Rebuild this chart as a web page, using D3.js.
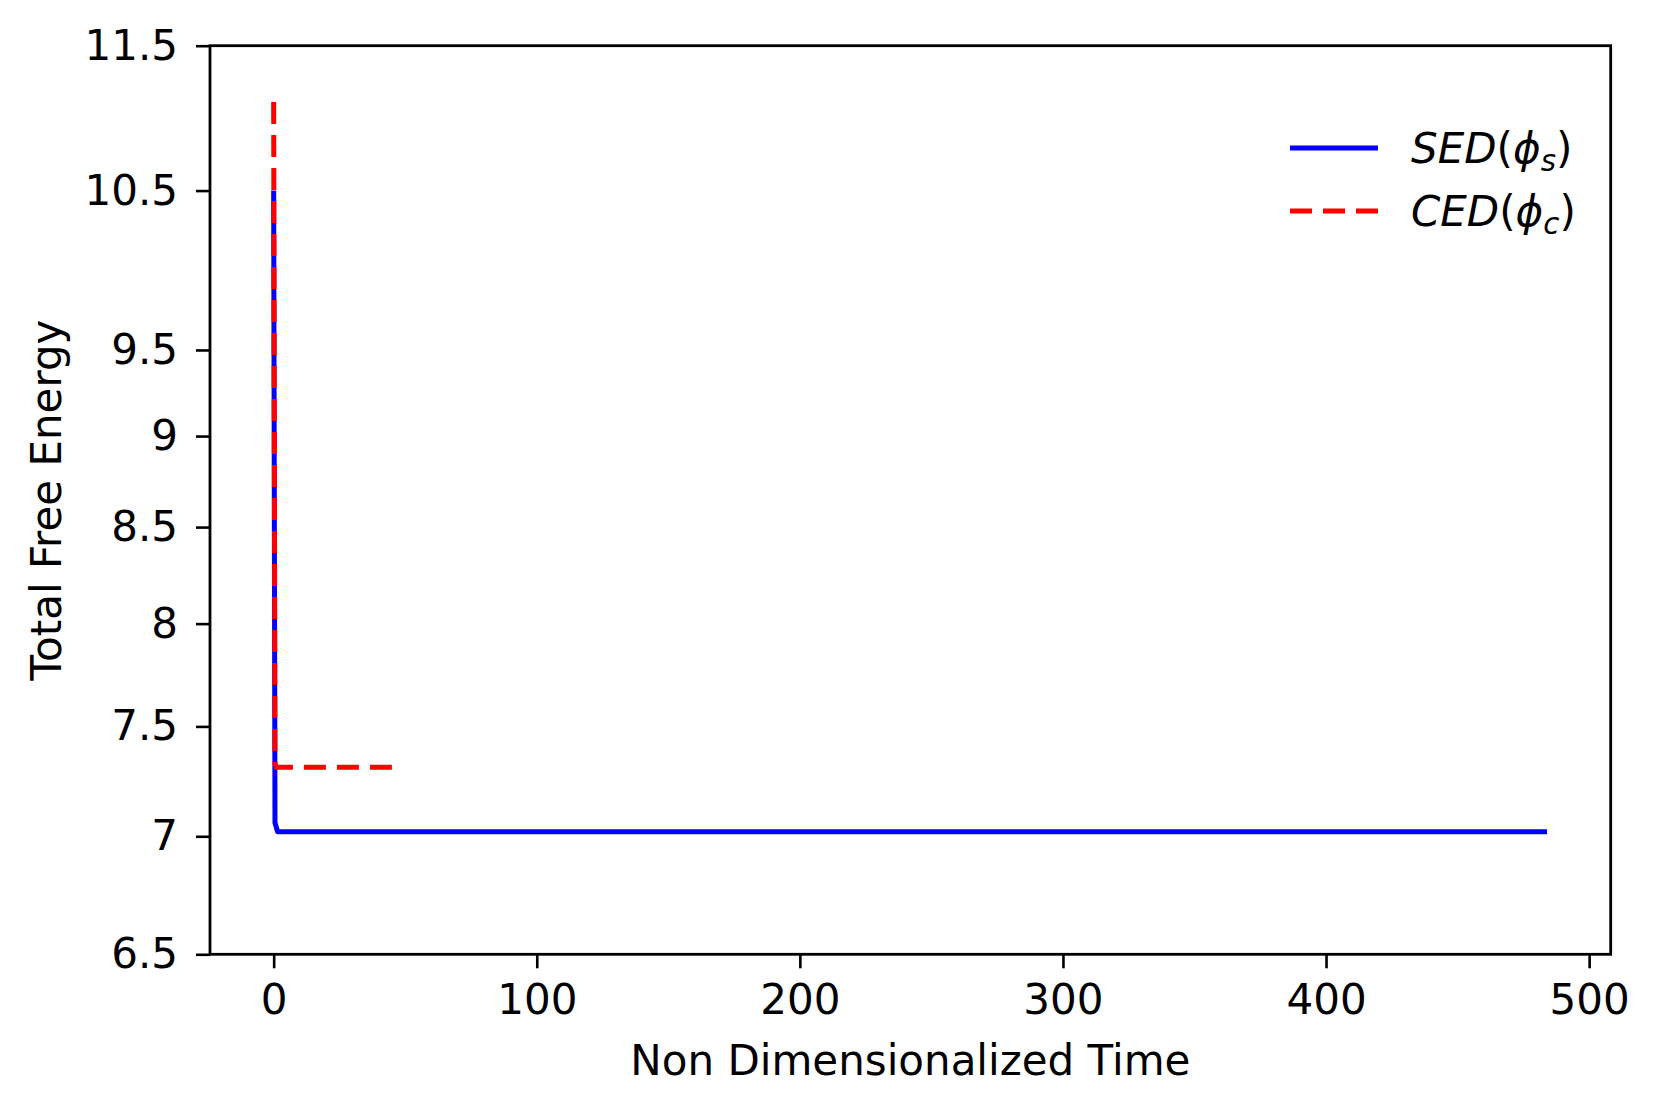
<!DOCTYPE html>
<html>
<head>
<meta charset="utf-8">
<script src="https://cdn.jsdelivr.net/npm/d3@7"></script>
<style>
  body { margin: 0; background: #fff; }
  svg { display: block; font-family: "DejaVu Sans", sans-serif; }
</style>
</head>
<body>
<svg id="chart" width="1661" height="1113"></svg>
<script>
// data
const timeSED = [0, 0.5, 1.5, 50, 100, 200, 300, 400, 484];
const energySED = [10.5, 7.06, 7.02, 7.02, 7.02, 7.02, 7.02, 7.02, 7.02];
const timeCED = [0, 0.5, 1, 20, 47];
const energyCED = [11.1, 7.33, 7.31, 7.31, 7.31];
const xTicks = [0, 100, 200, 300, 400, 500];
const yTicks = [6.5, 7, 7.5, 8, 8.5, 9, 9.5, 10.5, 11.5];
const xLabel = "Non Dimensionalized Time";
const yLabel = "Total Free Energy";

const margin = { top: 45.7, right: 50.3, bottom: 158.7, left: 210 };
const W = 1661, H = 1113;
const width = W - margin.left - margin.right;
const height = H - margin.top - margin.bottom;

const svg = d3.select("#chart");
const g = svg.append("g").attr("transform", `translate(${margin.left},${margin.top})`);

// x: matplotlib 5% margins around 0..484
const xMax = d3.max(timeSED);
const pad = xMax * 0.05;
const x = d3.scaleLinear().domain([-pad, xMax + pad]).range([0, width]);
const y = d3.scaleLog().domain([6.5, 11.5]).range([height, 0]);

const fontSize = 42;

// eksenler
const xAxis = g.append("g")
  .attr("transform", `translate(0,${height})`)
  .call(d3.axisBottom(x).tickValues(xTicks).tickSize(14).tickPadding(16).tickFormat(d3.format("d")));
const yAxis = g.append("g")
  .call(d3.axisLeft(y).tickValues(yTicks).tickSize(14).tickPadding(18).tickFormat(d => String(d)));

[xAxis, yAxis].forEach(a => {
  a.select(".domain").remove();
  a.selectAll(".tick line").attr("stroke", "#000").attr("stroke-width", 2.6);
  a.selectAll(".tick text").attr("fill", "#000").attr("font-size", fontSize)
    .attr("font-family", "DejaVu Sans, sans-serif");
});

// seriler
const line = d3.line().x(d => x(d[0])).y(d => y(d[1]));

g.append("path")
  .datum(d3.zip(timeSED, energySED))
  .attr("fill", "none")
  .attr("stroke", "#0000ff")
  .attr("stroke-width", 5)
  .attr("stroke-linejoin", "round")
  .attr("d", line);

g.append("path")
  .datum(d3.zip(timeCED, energyCED))
  .attr("fill", "none")
  .attr("stroke", "#ff0000")
  .attr("stroke-width", 5)
  .attr("stroke-dasharray", "22,11")
  .attr("d", line);

// frame
g.append("rect")
  .attr("width", width).attr("height", height)
  .attr("fill", "none").attr("stroke", "#000").attr("stroke-width", 2.8);

// axis labels
g.append("text")
  .attr("x", width / 2).attr("y", height + 121)
  .attr("text-anchor", "middle")
  .attr("font-size", fontSize)
  .text(xLabel);

g.append("text")
  .attr("transform", `translate(${-149},${height / 2}) rotate(-90)`)
  .attr("text-anchor", "middle")
  .attr("font-size", fontSize)
  .text(yLabel);

// legend
const legend = [
  { name: "SED", sub: "s", color: "#0000ff", dash: null },
  { name: "CED", sub: "c", color: "#ff0000", dash: "22,11" }
];
const lg = svg.append("g").attr("transform", "translate(1290,148)");
legend.forEach((d, i) => {
  const row = lg.append("g").attr("transform", `translate(0,${i * 63})`);
  row.append("line")
    .attr("x1", 0).attr("x2", 88)
    .attr("stroke", d.color).attr("stroke-width", 5)
    .attr("stroke-dasharray", d.dash);
  const t = row.append("text")
    .attr("x", 121).attr("y", 15)
    .attr("font-size", fontSize)
    .attr("font-style", "italic");
  t.append("tspan").text(d.name);
  t.append("tspan").attr("font-style", "normal").text("(");
  t.append("tspan").text("\u03d5");
  t.append("tspan").attr("font-size", fontSize * 0.7).attr("dy", 8).text(d.sub);
  t.append("tspan").attr("font-style", "normal").attr("dy", -8).text(")");
});
</script>
</body>
</html>
